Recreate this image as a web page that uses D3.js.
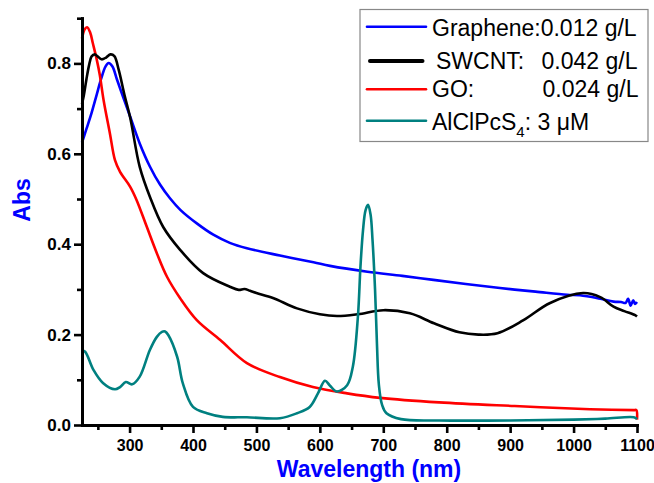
<!DOCTYPE html>
<html><head><meta charset="utf-8">
<script src="https://cdn.jsdelivr.net/npm/d3@7"></script>
<style>
body{margin:0;background:#fff;}
svg{display:block;}
text{font-family:"Liberation Sans",Arial,Helvetica,sans-serif;}
</style>
</head><body>
<svg id="chart" width="654" height="483"></svg>
<script>
// ---- data ----
const grapheneNm  = [225,232,240,248,255,262,267,273,280,290,301,316,332,348,364,380,406,432,458,485,537,590,616,675,730,779,830,884,940,990,1010,1040,1063,1075,1082,1086,1090,1094,1097,1100];
const grapheneAbs = [0.625,0.655,0.69,0.73,0.765,0.793,0.801,0.793,0.765,0.725,0.682,0.623,0.572,0.532,0.501,0.476,0.446,0.421,0.403,0.391,0.375,0.36,0.352,0.339,0.33,0.321,0.312,0.303,0.295,0.288,0.287,0.28,0.273,0.272,0.27,0.279,0.264,0.276,0.268,0.272];

const swcntNm  = [225,228,232,236,240,245,250,256,263,270,276,283,292,301,316,332,353,380,416,458,472,481,490,500,526,564,600,627,660,700,742,780,820,850,880,921,963,1015,1042,1063,1080,1097,1100];
const swcntAbs = [0.71,0.73,0.765,0.795,0.815,0.82,0.815,0.809,0.813,0.82,0.816,0.785,0.73,0.68,0.571,0.505,0.438,0.387,0.336,0.306,0.299,0.301,0.297,0.292,0.281,0.258,0.245,0.241,0.245,0.254,0.247,0.225,0.205,0.2,0.203,0.232,0.27,0.292,0.283,0.262,0.252,0.243,0.24];

const goNm  = [225,229,233,238,242,248,253,259,269,277,285,301,311,327,343,359,380,406,443,485,537,589,643,695,788,907,1026,1095,1099,1100];
const goAbs = [0.855,0.875,0.88,0.868,0.845,0.81,0.775,0.719,0.645,0.586,0.56,0.527,0.498,0.439,0.38,0.328,0.28,0.232,0.188,0.137,0.106,0.084,0.07,0.06,0.05,0.042,0.035,0.033,0.033,0.012];

const pcNm  = [225,230,243,258,277,285,294,304,316,332,343,351,356,361,375,384,400,422,447,485,537,564,584,597,608,616,627,643,652,660,664,668,672,676,680,683,687,690,693,698,705,728,788,900,1000,1050,1095,1100];
const pcAbs = [0.165,0.162,0.122,0.093,0.079,0.084,0.095,0.09,0.107,0.166,0.195,0.206,0.207,0.199,0.151,0.092,0.04,0.026,0.018,0.017,0.015,0.026,0.04,0.07,0.098,0.087,0.074,0.088,0.129,0.24,0.35,0.43,0.475,0.487,0.465,0.41,0.3,0.18,0.09,0.045,0.026,0.013,0.01,0.01,0.012,0.014,0.017,0.013];

const seriesNames  = ["Graphene", "SWCNT", "GO", "AlClPcS4"];
const seriesColors = ["#0000ff", "#000000", "#ff0000", "#008080"];

const xTicksMajor = [300,400,500,600,700,800,900,1000,1100];
const xTicksMinor = [250,350,450,550,650,750,850,950,1050];
const yTicksMajor = [0.0,0.2,0.4,0.6,0.8];
const yTicksMinor = [0.1,0.3,0.5,0.7,0.9];

const xTitle = "Wavelength (nm)";
const yTitle = "Abs";

// ---- chart ----
const svg = d3.select("#chart");
const x = d3.scaleLinear().domain([225, 1100]).range([82, 637]);
const y = d3.scaleLinear().domain([0, 0.9]).range([425, 18.2]);

const series = [
  {nm: grapheneNm, abs: grapheneAbs, color: seriesColors[0], w: 2.6},
  {nm: swcntNm, abs: swcntAbs, color: seriesColors[1], w: 2.6},
  {nm: goNm, abs: goAbs, color: seriesColors[2], w: 2.6},
  {nm: pcNm, abs: pcAbs, color: seriesColors[3], w: 2.6}
];

const line = d3.line()
  .x(d => x(d[0])).y(d => y(d[1]))
  .curve(d3.curveCatmullRom.alpha(0.5));

[0,2,1,3].forEach(i => {
  const s = series[i];
  svg.append("path")
    .datum(s.nm.map((v, k) => [v, s.abs[k]]))
    .attr("d", line)
    .attr("fill", "none")
    .attr("stroke", s.color)
    .attr("stroke-width", s.w)
    .attr("stroke-linejoin", "round");
});

// axes
function styleAxis(g, labels, size) {
  g.select(".domain").attr("stroke", "#000").attr("stroke-width", 3).attr("stroke-linecap", "square");
  g.selectAll(".tick line").attr("stroke", "#000").attr("stroke-width", 2.6);
  g.selectAll(".tick text").attr("fill", "#000")
    .style("font-size", size || "16px").style("font-weight", "bold")
    .style("font-family", '"Liberation Sans", Arial, sans-serif');
  if (!labels) g.selectAll(".tick text").remove();
}

const yMinor = svg.append("g").attr("transform", "translate(82,0)")
  .call(d3.axisLeft(y).tickValues(yTicksMinor).tickSize(5).tickSizeOuter(0).tickFormat(""));
styleAxis(yMinor, false);
const yMajor = svg.append("g").attr("transform", "translate(82,0)")
  .call(d3.axisLeft(y).tickValues(yTicksMajor).tickSize(8).tickSizeOuter(0).tickPadding(3).tickFormat(d3.format(".1f")));
styleAxis(yMajor, true, "17px");

const xMinor = svg.append("g").attr("transform", "translate(0,425)")
  .call(d3.axisBottom(x).tickValues(xTicksMinor).tickSize(5).tickSizeOuter(0).tickFormat(""));
styleAxis(xMinor, false);
const xMajor = svg.append("g").attr("transform", "translate(0,425)")
  .call(d3.axisBottom(x).tickValues(xTicksMajor).tickSize(8).tickSizeOuter(0).tickPadding(7).tickFormat(d3.format("d")));
styleAxis(xMajor, true, "16px");

// axis titles
svg.append("text")
  .attr("transform", "translate(30,200) rotate(-90)")
  .attr("text-anchor", "middle")
  .attr("fill", "#0000ff")
  .style("font-size", "23px").style("font-weight", "bold")
  .text(yTitle);

svg.append("text")
  .attr("x", 369).attr("y", 477)
  .attr("text-anchor", "middle")
  .attr("fill", "#0000ff")
  .style("font-size", "23px").style("font-weight", "bold")
  .text(xTitle);

// legend
const lg = svg.append("g");
lg.append("rect").attr("x", 360).attr("y", 9.5).attr("width", 288).attr("height", 132)
  .attr("fill", "#fff").attr("stroke", "#888").attr("stroke-width", 1.2);

const legendRows = [
  {ly: 26.7, by: 36, x1: 367, x2: 426, w: 2.6},
  {ly: 61,   by: 68.5, x1: 370, x2: 422.5, w: 4},
  {ly: 89.3, by: 97, x1: 367, x2: 426, w: 2.6},
  {ly: 120.7,by: 129.5, x1: 367, x2: 426, w: 2.6}
];
legendRows.forEach((r, i) => {
  lg.append("line").attr("x1", r.x1).attr("x2", r.x2).attr("y1", r.ly).attr("y2", r.ly)
    .attr("stroke", seriesColors[i]).attr("stroke-width", r.w).attr("stroke-linecap", "round");
});
const fs = "23px";
function ltext(xp, yp, t) {
  return lg.append("text").attr("x", xp).attr("y", yp).style("font-size", fs).attr("fill", "#000").text(t);
}
ltext(432, legendRows[0].by, "Graphene:0.012 g/L");
ltext(436, legendRows[1].by, "SWCNT:");
ltext(541.5, legendRows[1].by, "0.042 g/L");
ltext(432, legendRows[2].by, "GO:");
ltext(542.5, legendRows[2].by, "0.024 g/L");
const t4 = ltext(432, legendRows[3].by, "");
t4.append("tspan").text("AlClPcS");
t4.append("tspan").attr("dy", 7).style("font-size", "15px").text("4");
t4.append("tspan").attr("dy", -7).text(": 3 \u03bcM");
</script>
</body></html>
